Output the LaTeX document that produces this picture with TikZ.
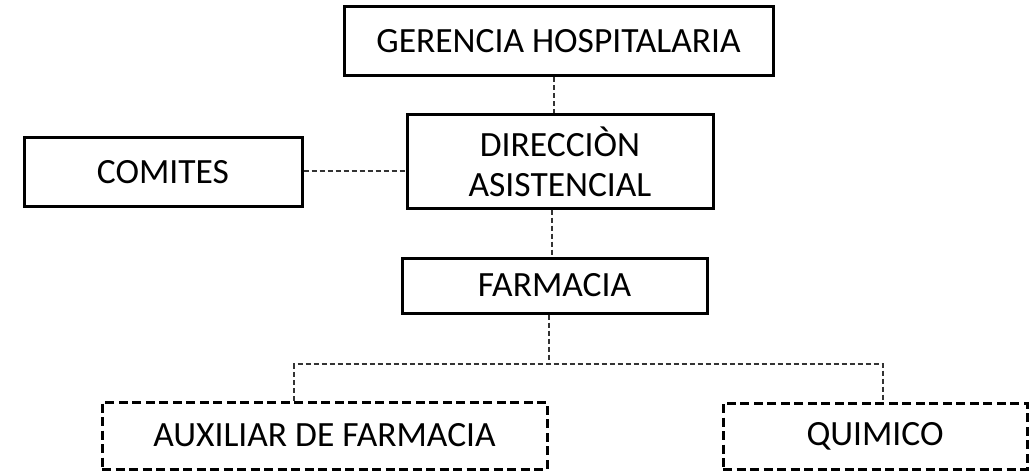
\documentclass[tikz,border=0pt]{standalone}
\usepackage{fontspec}
\setmainfont{Carlito}
\begin{document}
\begin{tikzpicture}[x=1pt,y=-1pt,
  box/.style={draw=black, line width=3pt, inner sep=0pt, align=center,
    font=\fontsize{35.5}{40}\selectfont},
  dbox/.style={box, dash pattern=on 9pt off 4.5pt},
  link/.style={draw=black!80, line width=1.1pt, dash pattern=on 5pt off 3pt}]
\useasboundingbox (0,0) rectangle (1035,473);
\node[box, minimum width=429pt, minimum height=69pt] (ger) at (558.5,41.5) {GERENCIA HOSPITALARIA};
\node[box, minimum width=306pt, minimum height=93pt] (dir) at (560,161.5) {DIRECCIÒN\\ASISTENCIAL};
\node[box, minimum width=278pt, minimum height=68pt] (com) at (163,172) {COMITES};
\node[box, minimum width=305pt, minimum height=55pt] (far) at (554.5,285.5) {FARMACIA};
\node[dbox, minimum width=445pt, minimum height=67pt] (aux) at (324.5,435.5) {AUXILIAR DE FARMACIA};
\node[dbox, minimum width=304pt, minimum height=66pt] (qui) at (875,436) {QUIMICO};
\coordinate (x1) at (554,0);
\coordinate (x2) at (552,0);
\coordinate (x3) at (549,0);
\coordinate (xa) at (294,0);
\coordinate (xq) at (883,0);
\coordinate (hy) at (0,364);
\draw[link] (ger.south -| x1) -- (dir.north -| x1);
\draw[link] (com.east |- 0,171) -- (dir.west |- 0,171);
\draw[link] (dir.south -| x2) -- (far.north -| x2);
\draw[link] (far.south -| x3) -- (hy -| x3);
\draw[link] (aux.north -| xa) -- (hy -| xa) -- (hy -| xq) -- (qui.north -| xq);
\end{tikzpicture}
\end{document}
